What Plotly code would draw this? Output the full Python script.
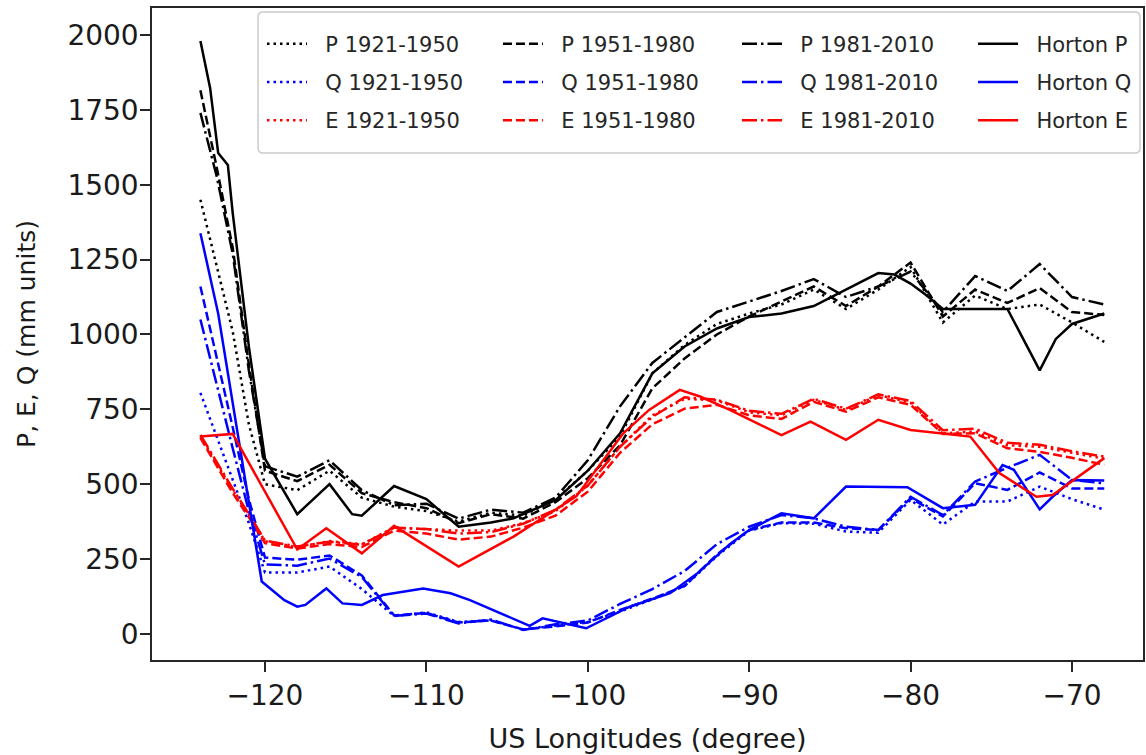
import plotly.graph_objects as go

# Longitude grid shared by the three 30-year climatologies (degrees)
LON = [-124, -123, -122, -121, -120, -118, -116, -114, -112, -110, -108, -106, -104, -102, -100,
       -98, -96, -94, -92, -90, -88, -86, -84, -82, -80, -78, -76, -74, -72, -70, -68]

# Precipitation P (mm)
P_1921_1950 = [1450, 1230, 1010, 700, 500, 480, 545, 455, 425, 410, 375, 405, 395, 450, 545,
               660, 870, 965, 1035, 1070, 1100, 1150, 1085, 1150, 1225, 1040, 1130, 1085, 1100, 1040, 975]
P_1951_1980 = [1815, 1560, 1290, 900, 545, 510, 565, 470, 440, 420, 370, 400, 385, 440, 520,
               630, 820, 920, 1000, 1060, 1110, 1160, 1095, 1160, 1240, 1060, 1150, 1105, 1155, 1075, 1065]
P_1981_2010 = [1740, 1530, 1270, 880, 560, 525, 580, 480, 430, 435, 385, 415, 405, 455, 580,
               760, 905, 990, 1075, 1110, 1145, 1185, 1125, 1160, 1210, 1075, 1195, 1145, 1235, 1125, 1100]

# Runoff Q (mm)
Q_1921_1950 = [805, 660, 510, 370, 205, 205, 225, 150, 60, 72, 40, 45, 15, 28, 40,
               75, 115, 160, 260, 345, 370, 368, 342, 338, 448, 365, 442, 442, 492, 450, 415]
Q_1951_1980 = [1160, 930, 690, 450, 255, 248, 262, 195, 62, 70, 38, 45, 15, 25, 38,
               80, 118, 160, 265, 347, 372, 372, 353, 347, 453, 392, 503, 481, 539, 486, 486]
Q_1981_2010 = [1050, 830, 620, 410, 232, 228, 252, 190, 60, 68, 35, 48, 13, 32, 45,
               100, 150, 210, 300, 358, 397, 386, 358, 347, 458, 397, 509, 555, 598, 514, 503]

# Evaporation E (mm)
E_1921_1950 = [660, 570, 480, 400, 310, 290, 310, 300, 355, 350, 345, 345, 370, 410, 495,
               625, 730, 785, 780, 740, 730, 782, 748, 798, 772, 670, 676, 630, 625, 605, 585]
E_1951_1980 = [655, 560, 470, 390, 303, 285, 300, 290, 345, 335, 315, 325, 355, 395, 475,
               605, 700, 752, 765, 730, 718, 775, 742, 790, 765, 668, 670, 620, 608, 588, 565]
E_1981_2010 = [665, 575, 485, 400, 312, 292, 308, 298, 355, 350, 335, 340, 368, 415, 495,
               625, 725, 790, 782, 745, 735, 785, 752, 800, 778, 680, 685, 638, 632, 610, 592]

# Horton-index based estimates, each on its own longitude points
HORTON_P_LON = [-124, -123.4, -122.9, -122.3, -122, -121, -120, -118, -116, -114.6, -114, -112, -110,
                -108, -106, -104.6, -102, -100, -98, -96, -94, -92, -90, -88, -86, -84, -82, -81,
                -80, -79, -78, -76, -74, -72, -71, -70, -68]
HORTON_P = [1980, 1823, 1606, 1566, 1406, 960, 585, 400, 500, 400, 395, 494, 450,
            358, 372, 386, 447, 545, 670, 870, 960, 1020, 1058, 1070, 1095, 1150, 1205, 1200,
            1170, 1130, 1085, 1085, 1085, 880, 985, 1035, 1070]

HORTON_Q_LON = [-124, -123.4, -122.9, -120.2, -118.8, -118, -117.5, -116.2, -115.2, -114, -112.7, -110.2,
                -108.5, -107.3, -103.6, -102.8, -100.1, -97.4, -94.9, -93.2, -91.2, -90, -88, -86,
                -84, -80.2, -78, -76, -74.3, -73.6, -72, -71.2, -70, -68]
HORTON_Q = [1338, 1190, 1070, 175, 113, 91, 97, 152, 102, 97, 130, 152,
            136, 113, 27, 52, 19, 91, 136, 203, 300, 347, 403, 386,
            492, 490, 420, 431, 564, 548, 416, 458, 514, 512]

HORTON_E_LON = [-124, -122, -118, -116.2, -114, -112, -108, -104.6, -100.7, -97.8, -96.2, -94.3, -93,
                -91.2, -88, -86.2, -84, -82, -80, -76.3, -74.5, -72.2, -71.2, -68]
HORTON_E = [659, 668, 282, 353, 269, 361, 225, 325, 460, 670, 748, 815, 792,
            748, 664, 709, 648, 715, 681, 659, 537, 458, 464, 587]

X_TICKS = [-120, -110, -100, -90, -80, -70]
Y_TICKS = [0, 250, 500, 750, 1000, 1250, 1500, 1750, 2000]

LW = 2.5
DASH = {
    "dotted": "2.5px,4px",
    "dashed": "9px,4px",
    "dashdot": "15px,4px,2.5px,4px",
    "solid": "solid",
}

# (name, x, y, colour, style, legend column)
SERIES = [
    ("P 1921-1950", LON, P_1921_1950, "#000000", "dotted", "legend"),
    ("Q 1921-1950", LON, Q_1921_1950, "#0000ff", "dotted", "legend"),
    ("E 1921-1950", LON, E_1921_1950, "#ff0000", "dotted", "legend"),
    ("P 1951-1980", LON, P_1951_1980, "#000000", "dashed", "legend2"),
    ("Q 1951-1980", LON, Q_1951_1980, "#0000ff", "dashed", "legend2"),
    ("E 1951-1980", LON, E_1951_1980, "#ff0000", "dashed", "legend2"),
    ("P 1981-2010", LON, P_1981_2010, "#000000", "dashdot", "legend3"),
    ("Q 1981-2010", LON, Q_1981_2010, "#0000ff", "dashdot", "legend3"),
    ("E 1981-2010", LON, E_1981_2010, "#ff0000", "dashdot", "legend3"),
    ("Horton P", HORTON_P_LON, HORTON_P, "#000000", "solid", "legend4"),
    ("Horton Q", HORTON_Q_LON, HORTON_Q, "#0000ff", "solid", "legend4"),
    ("Horton E", HORTON_E_LON, HORTON_E, "#ff0000", "solid", "legend4"),
]

fig = go.Figure()
for i, (name, xs, ys, color, style, leg) in enumerate(SERIES):
    fig.add_trace(go.Scatter(
        x=xs, y=ys, mode="lines", name="\u00a0\u00a0" + name,
        legend=leg, legendgroup=f"g{i}",
        line=dict(color=color, width=LW, dash=DASH[style]),
    ))

FONT = "DejaVu Sans"
AXIS_COLOR = "#262626"

legend_base = dict(
    orientation="v", xanchor="left", yanchor="top", y=0.9762,
    bgcolor="rgba(0,0,0,0)", borderwidth=0,
    font=dict(family=FONT, size=21, color="#262626"),
    itemwidth=40, traceorder="grouped", tracegroupgap=8,
)

fig.update_layout(
    width=1146, height=755,
    margin=dict(l=152, r=3, t=8, b=95, autoexpand=False),
    paper_bgcolor="white", plot_bgcolor="white",
    font=dict(family=FONT, size=28, color=AXIS_COLOR),
    showlegend=True,
    legend=dict(legend_base, x=0.1110),
    legend2=dict(legend_base, x=0.3491),
    legend3=dict(legend_base, x=0.5903),
    legend4=dict(legend_base, x=0.8285),
)

# Legend frame with rounded corners (paper coordinates)
x0, x1, y0, y1 = 0.107, 0.997, 0.7776, 0.9939
rx, ry = 0.005, 0.0077
frame_path = (
    f"M {x0+rx},{y0} L {x1-rx},{y0} Q {x1},{y0} {x1},{y0+ry} "
    f"L {x1},{y1-ry} Q {x1},{y1} {x1-rx},{y1} L {x0+rx},{y1} "
    f"Q {x0},{y1} {x0},{y1-ry} L {x0},{y0+ry} Q {x0},{y0} {x0+rx},{y0} Z"
)
fig.add_shape(type="path", path=frame_path, xref="paper", yref="paper",
              fillcolor="rgba(255,255,255,0.8)", line=dict(color="#cccccc", width=1.5),
              layer="above")

axis_common = dict(
    ticks="outside", ticklen=10, tickwidth=1.5, tickcolor=AXIS_COLOR,
    showline=True, linecolor=AXIS_COLOR, linewidth=1.5, mirror=True,
    showgrid=False, zeroline=False,
    tickfont=dict(family=FONT, size=28, color="#1a1a1a"),
)

fig.update_xaxes(
    range=[-127.0, -65.6], tickvals=X_TICKS,
    title=dict(text="US Longitudes (degree)", font=dict(family=FONT, size=27, color="#1a1a1a"), standoff=18),
    **axis_common,
)
fig.update_yaxes(
    range=[-87, 2090], tickvals=Y_TICKS, ticklabelstandoff=-4,
    title=dict(text="P, E, Q (mm units)", font=dict(family=FONT, size=25, color="#1a1a1a"), standoff=25),
    **axis_common,
)

fig.write_html("out.html", config={"displayModeBar": False})
